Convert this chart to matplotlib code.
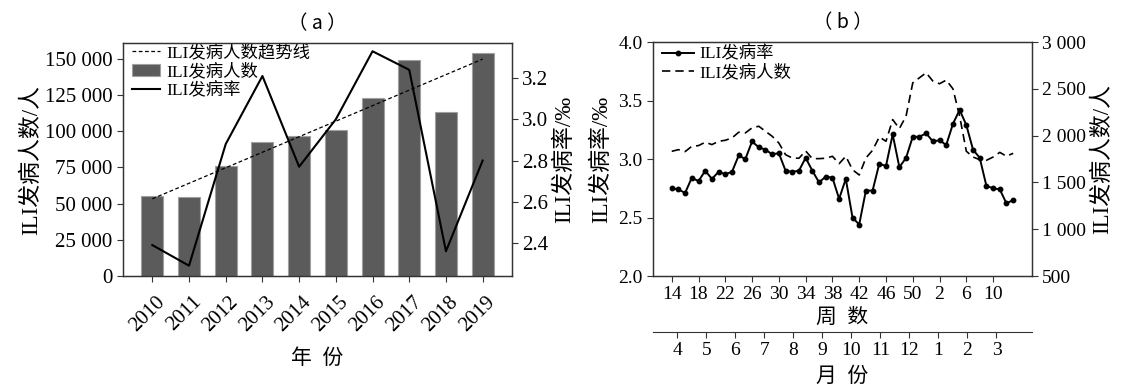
import numpy as np
import matplotlib.pyplot as plt
from matplotlib.ticker import FuncFormatter
from matplotlib.transforms import ScaledTranslation

plt.rcParams['font.family'] = ['Liberation Serif', 'Noto Sans CJK SC']
plt.rcParams['axes.unicode_minus'] = False

# (a) yearly data
years = ['2010', '2011', '2012', '2013', '2014', '2015', '2016', '2017', '2018', '2019']
cases_year = [55000, 54500, 76000, 92600, 96700, 100900, 123100, 149500, 113600, 154200]
rate_year = [2.39, 2.29, 2.88, 3.21, 2.77, 3.00, 3.33, 3.24, 2.36, 2.80]

# (b) weekly data, week 14 to week 13 of next year
weeks = list(range(14, 53)) + list(range(1, 14))
rate_week = [2.75, 2.74, 2.71, 2.84, 2.81, 2.90, 2.83, 2.89, 2.87, 2.89,
             3.03, 3.00, 3.15, 3.10, 3.08, 3.04, 3.05, 2.90, 2.89, 2.90,
             3.01, 2.90, 2.80, 2.85, 2.84, 2.66, 2.83, 2.50, 2.44, 2.73,
             2.73, 2.96, 2.94, 3.21, 2.93, 3.01, 3.19, 3.19, 3.22, 3.15,
             3.16, 3.12, 3.30, 3.42, 3.29, 3.08, 3.01, 2.77, 2.75, 2.74,
             2.62, 2.65]
cases_week = [1832, 1850, 1829, 1886, 1893, 1929, 1904, 1939, 1950, 1975,
              2036, 2029, 2083, 2100, 2046, 1993, 1921, 1796, 1761, 1758,
              1836, 1754, 1754, 1758, 1779, 1700, 1779, 1636, 1579, 1761,
              1843, 1986, 1939, 2171, 2075, 2208, 2564, 2618, 2671, 2583,
              2554, 2593, 2500, 2208, 1833, 1771, 1743, 1736, 1771, 1821,
              1779, 1811]
months = ['4', '5', '6', '7', '8', '9', '10', '11', '12', '1', '2', '3']

ylab_fs = 16.5
xlab_fs = 15
spine_c = '#333333'


def thousands(v, pos):
    return f'{int(round(v)):,}'.replace(',', ' ')


def style(ax, fs):
    for s in ax.spines.values():
        s.set_color(spine_c)
        s.set_linewidth(0.9)
    ax.tick_params(labelsize=fs, direction='out', length=4, width=0.8,
                   color=spine_c)


fig = plt.figure(figsize=(11.48, 3.9), dpi=100)

# ---------- (a) ----------
axa = fig.add_axes([0.1071, 0.2923, 0.3389, 0.5974])
x = np.arange(len(years))
bars = axa.bar(x, cases_year, width=0.6, color='#5b5b5b', edgecolor='#a0a0a0',
               linewidth=0.8, label='ILI发病人数')
k, b = np.polyfit(x, cases_year, 1)
trend, = axa.plot(x, k * x + b, color='black', lw=0.9, ls=(0, (3, 2)),
                  label='ILI发病人数趋势线')
axa.set_xlim(-0.8, 9.8)
axa.set_ylim(0, 161000)
axa.set_yticks(np.arange(0, 150001, 25000))
axa.yaxis.set_major_formatter(FuncFormatter(thousands))
axa.set_xticks(x)
axa.set_xticklabels(years, rotation=45, ha='right', rotation_mode='anchor')
style(axa, 15)
axa.tick_params(axis='x', pad=8)
shift = ScaledTranslation(0.03, 0, fig.dpi_scale_trans)
for lab in axa.get_xticklabels():
    lab.set_transform(lab.get_transform() + shift)
axa.set_ylabel('ILI发病人数/人', fontsize=ylab_fs, labelpad=2)
axa.set_xlabel('年  份', fontsize=xlab_fs, labelpad=10)
axa.set_title('（ a ）', fontsize=14, pad=10, family='Noto Sans CJK SC')

axa2 = axa.twinx()
rate_line, = axa2.plot(x, rate_year, color='black', lw=1.5, label='ILI发病率')
axa2.set_ylim(2.24, 3.37)
axa2.set_yticks([2.4, 2.6, 2.8, 3.0, 3.2])
axa2.yaxis.set_major_formatter(FuncFormatter(lambda v, p: f'{v:.1f}'))
style(axa2, 15)
axa2.set_ylabel('ILI发病率/‰', fontsize=ylab_fs, labelpad=4)

axa.legend([trend, bars, rate_line], ['ILI发病人数趋势线', 'ILI发病人数', 'ILI发病率'],
           loc='upper left', bbox_to_anchor=(0.02, 1.0), frameon=False,
           fontsize=12.5, handlelength=1.6, handletextpad=0.35,
           borderaxespad=0, borderpad=0.1, labelspacing=0.12)

# ---------- (b) ----------
axb = fig.add_axes([0.5688, 0.2923, 0.3301, 0.6])
xi = np.arange(len(weeks))
l1, = axb.plot(xi, rate_week, color='black', lw=1.4, marker='o', ms=3.2,
               label='ILI发病率')
axb.set_xlim(-2.8, 53.8)
axb.set_ylim(2.0, 4.0)
axb.set_yticks([2.0, 2.5, 3.0, 3.5, 4.0])
axb.yaxis.set_major_formatter(FuncFormatter(lambda v, p: f'{v:.1f}'))
axb.set_xticks(xi[::4])
axb.set_xticklabels([str(w) for w in weeks[::4]])
style(axb, 14)
axb.set_xlabel('周  数', fontsize=xlab_fs, labelpad=4)
axb.set_ylabel('ILI发病率/‰', fontsize=ylab_fs, labelpad=4)
axb.set_title('（ b ）', fontsize=14, pad=10, family='Noto Sans CJK SC')

axb2 = axb.twinx()
l2, = axb2.plot(xi, cases_week, color='black', lw=1.2, ls=(0, (5, 3)),
                label='ILI发病人数')
axb2.set_ylim(500, 3000)
axb2.set_yticks(np.arange(500, 3001, 500))
axb2.yaxis.set_major_formatter(FuncFormatter(thousands))
style(axb2, 14)
axb2.set_ylabel('ILI发病人数/人', fontsize=ylab_fs, labelpad=4)

axb.legend([l1, l2], ['ILI发病率', 'ILI发病人数'], loc='upper left',
           bbox_to_anchor=(0.02, 0.99), frameon=False, fontsize=12.5,
           handlelength=1.8, handletextpad=0.35, borderaxespad=0,
           borderpad=0.1, labelspacing=0.12)

# month axis below the week axis
wpm = len(weeks) / 12
sec = axb.secondary_xaxis(-0.238, functions=(lambda w: (w - 0.84) / wpm,
                                             lambda m: m * wpm + 0.84))
sec.set_xticks(np.arange(12))
sec.set_xticklabels(months)
sec.spines['bottom'].set_color(spine_c)
sec.tick_params(labelsize=14, direction='out', length=4, width=0.8,
                color=spine_c)
sec.set_xlabel('月  份', fontsize=xlab_fs, labelpad=6)

fig.savefig('out.png', dpi=100)
